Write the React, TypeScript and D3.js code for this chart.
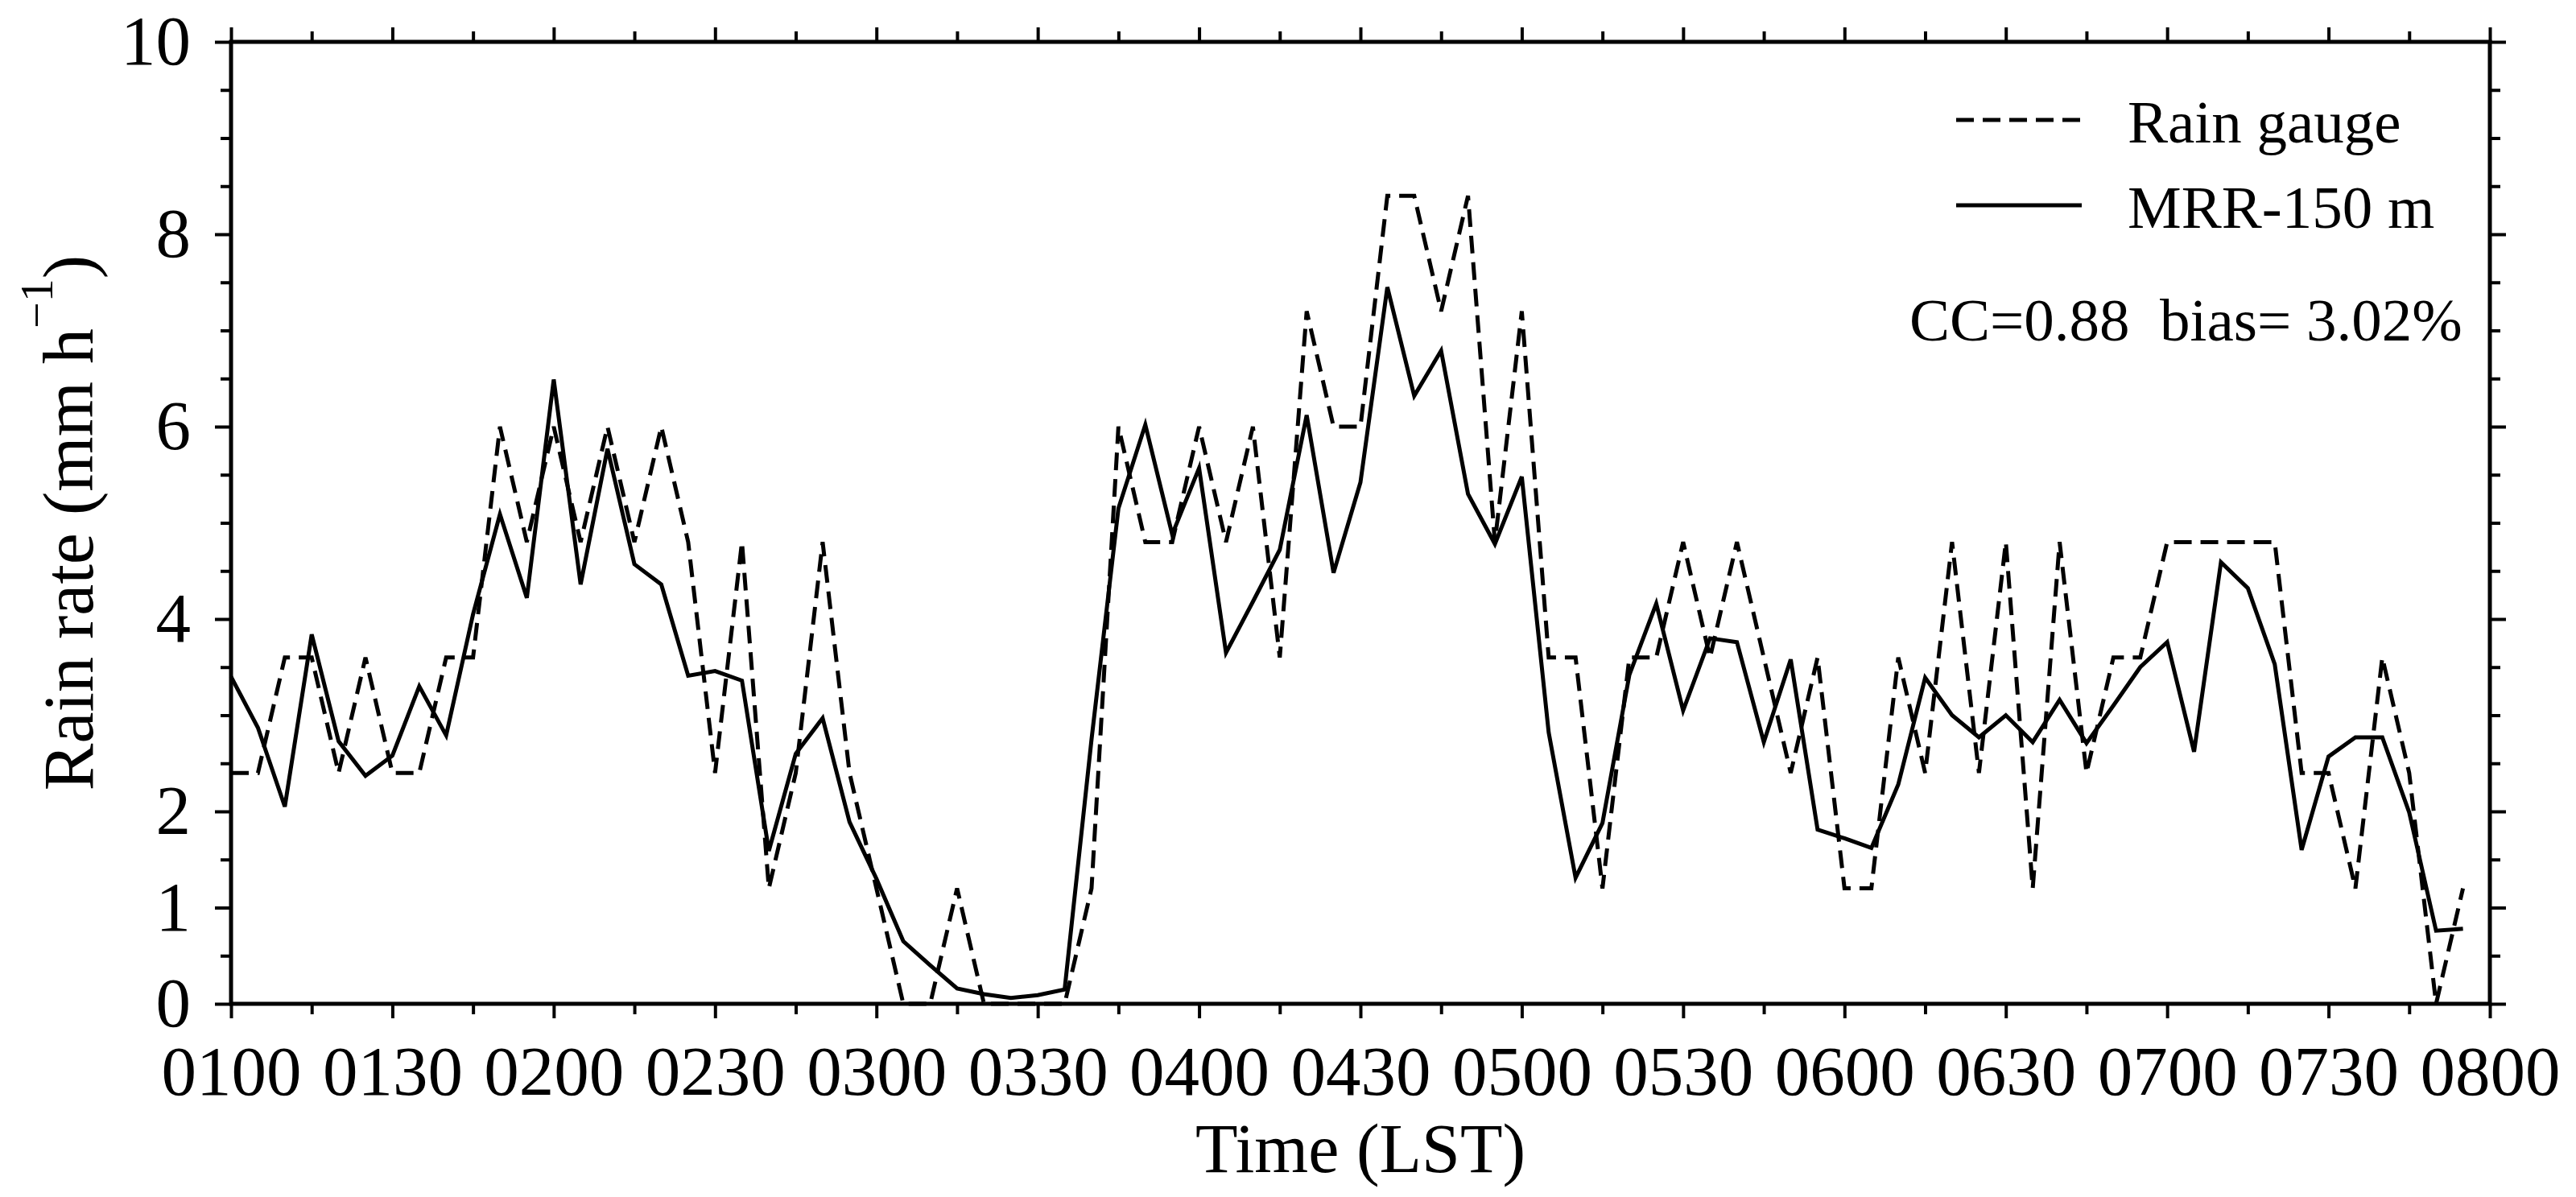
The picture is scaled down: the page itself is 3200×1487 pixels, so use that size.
import React, { useEffect, useRef } from 'react';
import * as d3 from 'd3';

const W = 3200;
const H = 1487;
// margins leave room for tick labels and axis titles
const margin = { top: 52, right: 107, bottom: 240, left: 287 };

// minutes after midnight, one sample every 5 min from 0100 to 0755
const times: number[] = d3.range(60, 480, 5);

// rain gauge (dashed), mm h-1
const gauge: number[] = [
	2.4, 2.4, 3.6, 3.6, 2.4, 3.6, 2.4, 2.4, 3.6, 3.6, 6.0, 4.8,
	6.0, 4.8, 6.0, 4.8, 6.0, 4.8, 2.4, 4.8, 1.2, 2.4, 4.8, 2.4,
	1.2, 0, 0, 1.2, 0, 0, 0, 0, 1.2, 6.0, 4.8, 4.8,
	6.0, 4.8, 6.0, 3.6, 7.2, 6.0, 6.0, 8.4, 8.4, 7.2, 8.4, 4.8,
	7.2, 3.6, 3.6, 1.2, 3.6, 3.6, 4.8, 3.6, 4.8, 3.6, 2.4, 3.6,
	1.2, 1.2, 3.6, 2.4, 4.8, 2.4, 4.8, 1.2, 4.8, 2.4, 3.6, 3.6,
	4.8, 4.8, 4.8, 4.8, 4.8, 2.4, 2.4, 1.2, 3.6, 2.4, 0, 1.2,
];

// MRR at 150 m (solid), mm h-1
const mrr: number[] = [
	3.4, 2.87, 2.05, 3.84, 2.73, 2.37, 2.58, 3.3, 2.79, 4.05, 5.09, 4.22,
	6.49, 4.36, 5.77, 4.57, 4.36, 3.41, 3.46, 3.36, 1.59, 2.6, 2.97, 1.89,
	1.3, 0.65, 0.4, 0.16, 0.1, 0.06, 0.09, 0.15, 2.75, 5.15, 6.02, 4.88,
	5.57, 3.65, 4.18, 4.72, 6.12, 4.48, 5.42, 7.45, 6.32, 6.79, 5.3, 4.78,
	5.48, 2.82, 1.31, 1.88, 3.42, 4.16, 3.05, 3.8, 3.76, 2.72, 3.58, 1.81,
	1.72, 1.62, 2.28, 3.39, 3.0, 2.77, 3.0, 2.72, 3.16, 2.71, 3.1, 3.5,
	3.76, 2.62, 4.59, 4.32, 3.53, 1.6, 2.57, 2.77, 2.77, 1.99, 0.76, 0.78,
];

const xMajorTicks: number[] = d3.range(60, 481, 30);
const xMinorTicks: number[] = d3.range(75, 481, 30);
const xTickLabels: string[] = [
	'0100', '0130', '0200', '0230', '0300', '0330', '0400', '0430',
	'0500', '0530', '0600', '0630', '0700', '0730', '0800',
];
const yMajorTicks: number[] = [0, 1, 2, 4, 6, 8, 10];
const yMinorTicks: number[] = d3.range(0.5, 10, 0.5).filter((v) => !yMajorTicks.includes(v));

const legendItems = [
	{ label: 'Rain gauge', dash: '22 11' },
	{ label: 'MRR-150 m', dash: null },
];
const statsText = 'CC=0.88  bias= 3.02%';

const font = "'Liberation Serif', 'Times New Roman', serif";

const App: React.FC = () => {
	const ref = useRef<SVGSVGElement>(null);

	useEffect(() => {
		const svg = d3.select(ref.current);
		svg.selectAll('*').remove();

		const x = d3.scaleLinear().domain([60, 480]).range([margin.left, W - margin.right]);
		const y = d3.scaleLinear().domain([0, 10]).range([H - margin.bottom, margin.top]);
		const bottom = H - margin.bottom;
		const right = W - margin.right;

		// tick helper: draws one set of ticks and strips the domain path
		const drawAxis = (axis: any, tx: number, ty: number, labels?: (g: any) => void) => {
			const g = svg.append('g').attr('transform', `translate(${tx},${ty})`).call(axis);
			g.select('.domain').remove();
			g.selectAll('line').attr('stroke', '#000').attr('stroke-width', 4);
			g.attr('font-family', font);
			if (labels) labels(g);
			else g.selectAll('text').remove();
		};

		const blank: any = () => '';

		// bottom
		drawAxis(
			d3.axisBottom(x).tickValues(xMajorTicks).tickSize(18).tickSizeOuter(0)
				.tickFormat((_d, i) => xTickLabels[i]),
			0, bottom,
			(g) => g.attr('font-size', 87).selectAll('text').attr('y', 113).attr('dy', 0).attr('fill', '#000')
		);
		drawAxis(d3.axisBottom(x).tickValues(xMinorTicks).tickSize(13).tickSizeOuter(0).tickFormat(blank), 0, bottom);
		// top
		drawAxis(d3.axisTop(x).tickValues(xMajorTicks).tickSize(18).tickSizeOuter(0).tickFormat(blank), 0, margin.top);
		drawAxis(d3.axisTop(x).tickValues(xMinorTicks).tickSize(13).tickSizeOuter(0).tickFormat(blank), 0, margin.top);
		// left
		drawAxis(
			d3.axisLeft(y).tickValues(yMajorTicks).tickSize(20).tickSizeOuter(0).tickFormat(d3.format('d')),
			margin.left, 0,
			(g) => g.attr('font-size', 87).selectAll('text').attr('x', -50).attr('dy', '0.32em').attr('fill', '#000')
		);
		drawAxis(d3.axisLeft(y).tickValues(yMinorTicks).tickSize(13).tickSizeOuter(0).tickFormat(blank), margin.left, 0);
		// right
		drawAxis(d3.axisRight(y).tickValues(yMajorTicks).tickSize(20).tickSizeOuter(0).tickFormat(blank), right, 0);
		drawAxis(d3.axisRight(y).tickValues(yMinorTicks).tickSize(13).tickSizeOuter(0).tickFormat(blank), right, 0);

		// frame
		svg.append('rect')
			.attr('x', margin.left)
			.attr('y', margin.top)
			.attr('width', right - margin.left)
			.attr('height', bottom - margin.top)
			.attr('fill', 'none')
			.attr('stroke', '#000')
			.attr('stroke-width', 5);

		const line = d3.line<number>()
			.x((_d, i) => x(times[i]))
			.y((d) => y(d));

		svg.append('path')
			.datum(gauge)
			.attr('d', line)
			.attr('fill', 'none')
			.attr('stroke', '#000')
			.attr('stroke-width', 5)
			.attr('stroke-dasharray', legendItems[0].dash);

		svg.append('path')
			.datum(mrr)
			.attr('d', line)
			.attr('fill', 'none')
			.attr('stroke', '#000')
			.attr('stroke-width', 5);

		// legend
		const leg = svg.append('g').attr('font-family', font).attr('font-size', 75);
		legendItems.forEach((item, i) => {
			const ly = 149 + i * 106;
			leg.append('line')
				.attr('x1', 2430).attr('x2', 2586)
				.attr('y1', ly).attr('y2', ly)
				.attr('stroke', '#000')
				.attr('stroke-width', 5)
				.attr('stroke-dasharray', item.dash);
			leg.append('text').attr('x', 2643).attr('y', ly + 28).text(item.label);
		});
		leg.append('text')
			.attr('x', 2372)
			.attr('y', 423)
			.style('white-space', 'pre')
			.text(statsText);

		// axis titles
		svg.append('text')
			.attr('x', (margin.left + right) / 2)
			.attr('y', 1456)
			.attr('text-anchor', 'middle')
			.attr('font-family', font)
			.attr('font-size', 86)
			.text('Time (LST)');

		const yt = svg.append('text')
			.attr('transform', `translate(115,${(margin.top + bottom) / 2}) rotate(-90)`)
			.attr('text-anchor', 'middle')
			.attr('font-family', font)
			.attr('font-size', 88);
		yt.append('tspan').text('Rain rate (mm h');
		yt.append('tspan').attr('font-size', 58).attr('dy', -50).text('\u22121');
		yt.append('tspan').attr('dy', 50).text(')');
	}, []);

	return (
		<svg
			ref={ref}
			width={W}
			height={H}
			style={{ position: 'absolute', left: 0, top: 0, background: '#fff' }}
		/>
	);
};

export default App;
